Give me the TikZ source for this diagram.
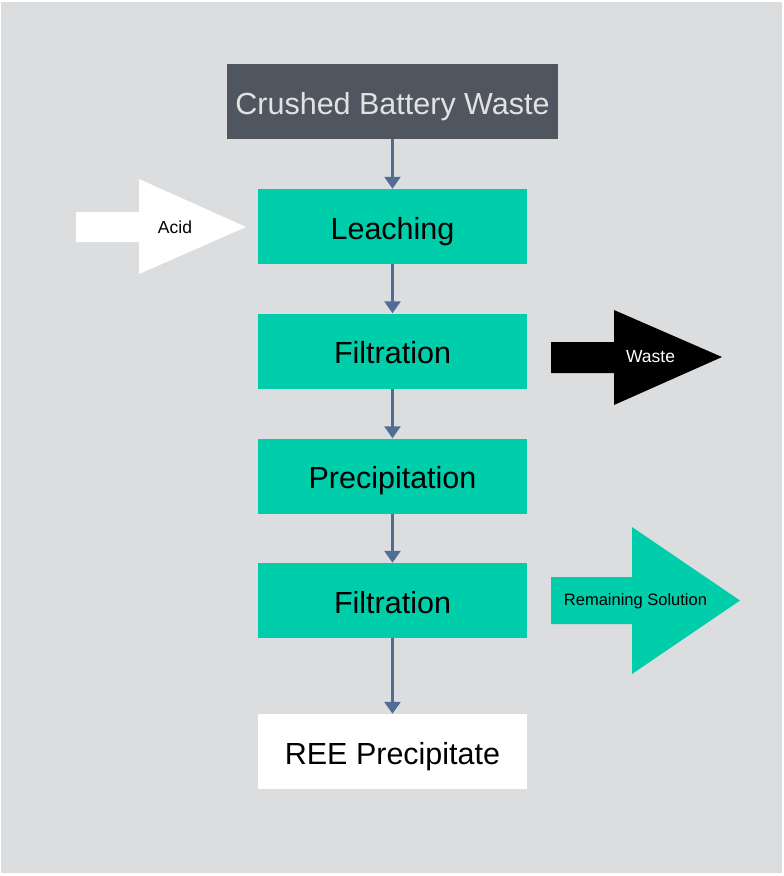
\documentclass[tikz,border=0pt]{standalone}
\usepackage{fontspec}
\setmainfont{Liberation Sans}
\usetikzlibrary{arrows.meta}
\definecolor{bgc}{HTML}{DCDDDF}
\definecolor{darkbox}{HTML}{50565F}
\definecolor{teal}{HTML}{00CDAA}
\definecolor{conn}{HTML}{506D95}
\definecolor{lighttxt}{HTML}{E2E2E2}
\tikzset{
  stepbox/.style={rectangle, fill=teal, minimum width=269pt, minimum height=75pt, inner sep=0pt,
    font=\fontsize{30.5}{33}\selectfont, text=black, text height=25pt, text depth=0pt},
  connector/.style={draw=conn, line width=2.6pt, -{Triangle[width=16pt,length=12pt]}},
  smalltxt/.style={font=\fontsize{17.5}{20}\selectfont, inner sep=0pt}
}
\begin{document}
\begin{tikzpicture}[x=1pt,y=-1pt]
\useasboundingbox (0,0) rectangle (784,876);
\fill[white] (0,0) rectangle (784,876);
\fill[bgc] (1,2) rectangle (782,873);

\node[stepbox, fill=darkbox, minimum width=331pt, text=lighttxt] (crushed) at (392.5,101.5) {Crushed Battery Waste};
\node[stepbox] (leach) at (392.5,226.5) {Leaching};
\node[stepbox] (filt1) at (392.5,351) {Filtration};
\node[stepbox] (precip) at (392.5,476) {Precipitation};
\node[stepbox] (filt2) at (392.5,600.5) {Filtration};
\node[stepbox, fill=white] (ree) at (392.5,751.5) {REE Precipitate};

\draw[connector] (crushed) -- (leach);
\draw[connector] (leach) -- (filt1);
\draw[connector] (filt1) -- (precip);
\draw[connector] (precip) -- (filt2);
\draw[connector] (filt2) -- (ree);

% Acid input arrow
\fill[white] (76,212) -- (139,212) -- (139,179) -- (246,227) -- (139,274) -- (139,242) -- (76,242) -- cycle;
\node[smalltxt, text=black] (acid) at (175,227) {Acid};

% Waste output arrow
\fill[black] (551,342) -- (614,342) -- (614,310) -- (722,357) -- (614,405) -- (614,373) -- (551,373) -- cycle;
\node[smalltxt, text=white] (waste) at (650.5,357) {Waste};

% Remaining solution output arrow
\fill[teal] (551,577) -- (632,577) -- (632,527) -- (740,600.5) -- (632,674) -- (632,624) -- (551,624) -- cycle;
\node[smalltxt, font=\fontsize{16.5}{19}\selectfont, text=black] (remain) at (635.5,601) {Remaining Solution};
\end{tikzpicture}
\end{document}
